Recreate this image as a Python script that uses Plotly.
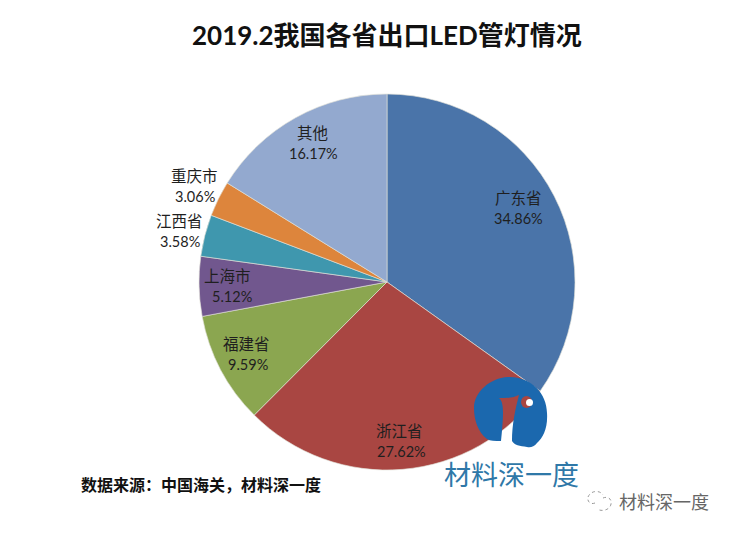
import plotly.graph_objects as go

title = "2019.2我国各省出口LED管灯情况"
source = "数据来源：中国海关，材料深一度"
brand = "材料深一度"
categories = ["广东省", "浙江省", "福建省", "上海市", "江西省", "重庆市", "其他"]
shares = [34.86, 27.62, 9.59, 5.12, 3.58, 3.06, 16.17]
colors = ["#4A74A9", "#A94642", "#8BA650", "#71578E", "#3F97AE", "#DD853C", "#93A9CF"]
name_xy = [(518, 197), (399, 430), (246, 343), (227, 275), (179, 220), (194, 175), (312, 132)]
pct_xy = [(518, 218), (401, 451), (248, 364), (232, 296), (180, 241), (195, 196), (313, 153)]

W, H = 733, 533
FONT = "Noto Sans CJK SC"
LATIN = "Lato, " + FONT
LOGO_BLUE = "#1B68AE"

fig = go.Figure(go.Pie(
    labels=categories, values=shares, sort=False, direction="clockwise", rotation=0,
    marker=dict(colors=colors, line=dict(color="rgba(225,225,215,0.8)", width=0.8)),
    textinfo="none", hoverinfo="label+percent", showlegend=False,
    domain=dict(x=[199 / W, 575 / W], y=[1 - 470 / H, 1 - 94 / H]),
))

notes = []
for cat, val, (nx, ny), (px, py) in zip(categories, shares, name_xy, pct_xy):
    notes.append(dict(x=nx, y=ny, xref="x", yref="y", showarrow=False, text=cat,
                      font=dict(family=FONT, size=15.5, color="#1f1f1f")))
    notes.append(dict(x=px, y=py, xref="x", yref="y", showarrow=False, text=f"{val:.2f}%",
                      font=dict(family=LATIN, size=14.5, color="#1f1f1f")))
notes.append(dict(x=387, y=35, xref="x", yref="y", showarrow=False, text=f"<b>{title}</b>",
                  font=dict(family=LATIN, size=26, color="#111111")))
notes.append(dict(x=79, y=484, xref="x", yref="y", xanchor="left", showarrow=False, text=f"<b>{source}</b>",
                  font=dict(family=FONT, size=16, color="#111111")))
notes.append(dict(x=511, y=473, xref="x", yref="y", showarrow=False, text=brand,
                  font=dict(family=FONT, size=27, color="#2F78A8")))
notes.append(dict(x=664, y=501, xref="x", yref="y", showarrow=False, text=brand,
                  font=dict(family=FONT, size=18, color="#666666")))

logo = ("M 508 377 C 530 376 547 393 547 413 C 548 428 543 438 537 443 "
        "C 534 447 530 448 527 447 C 520 446 514 445 512 441 C 512 425 515 410 519 395 "
        "C 513 398 506 398 499 398 C 505 402 503 420 501 441 C 495 441 490 441 487 439 "
        "C 478 432 474 420 474 408 C 474 392 490 378 508 377 Z")
wechat = ("M 588 497 C 591 490 600 490 603 495 M 603 498 C 608 496 612 499 611 504 "
          "C 610 510 602 512 597 509 M 595 503 C 590 505 587 501 588 497")

fig.update_layout(
    width=W, height=H, margin=dict(l=0, r=0, t=0, b=0), autosize=False,
    paper_bgcolor="white", plot_bgcolor="white", showlegend=False,
    xaxis=dict(range=[0, W], visible=False, fixedrange=True),
    yaxis=dict(range=[H, 0], visible=False, fixedrange=True),
    annotations=notes,
    shapes=[
        dict(type="path", path=logo, xref="x", yref="y", fillcolor=LOGO_BLUE, line=dict(width=0)),
        dict(type="circle", x0=521, x1=532, y0=396, y1=408, xref="x", yref="y",
             fillcolor="#A94642", line=dict(width=0)),
        dict(type="circle", x0=526, x1=533, y0=399, y1=406, xref="x", yref="y",
             fillcolor="white", line=dict(width=0)),
        dict(type="path", path=wechat, xref="x", yref="y",
             line=dict(color="#999999", width=1, dash="dot")),
    ],
)
fig.write_html("out.html", config=dict(displayModeBar=False),
               post_script="document.body.style.margin='0';")
